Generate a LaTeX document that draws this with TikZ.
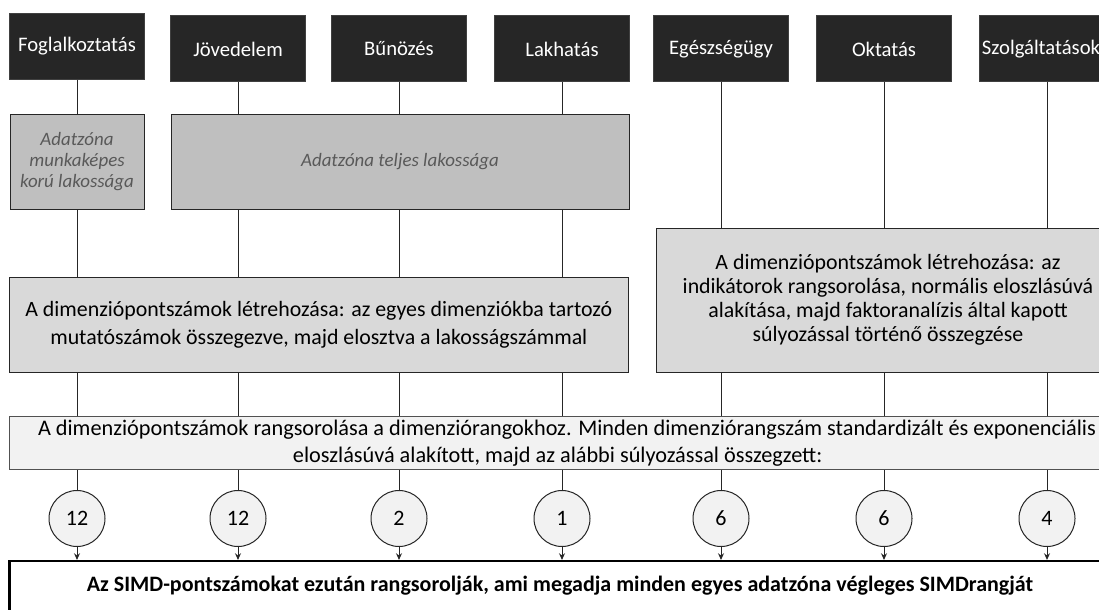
\documentclass[tikz,border=0pt]{standalone}
\usepackage{fontspec}
\setmainfont{Carlito}
\usetikzlibrary{arrows.meta}
\definecolor{topfill}{HTML}{262626}
\definecolor{topedge}{HTML}{404040}
\definecolor{midfill}{HTML}{BFBFBF}
\definecolor{midtext}{HTML}{595959}
\definecolor{lightfill}{HTML}{D9D9D9}
\definecolor{paler}{HTML}{F2F2F2}
\definecolor{edge}{HTML}{262626}
\tikzset{
  dimbox/.style={draw=topedge, fill=topfill, text=white, line width=0.75pt,
    minimum width=101.25pt, minimum height=49.5pt, inner sep=0pt,
    font=\fontsize{15.5pt}{18pt}\selectfont},
  popbox/.style={draw=edge, fill=midfill, text=midtext, line width=0.75pt,
    minimum height=71.25pt, inner sep=0pt, align=center,
    font=\fontsize{14.2pt}{15.6pt}\selectfont\itshape},
  scorebox/.style={draw=edge, fill=lightfill, line width=0.75pt, inner sep=0pt,
    align=center, font=\fontsize{16.4pt}{21pt}\selectfont},
  rankbox/.style={draw=edge!80, fill=paler, line width=0.75pt, inner sep=0pt,
    align=center, font=\fontsize{16.7pt}{20pt}\selectfont},
  weight/.style={circle, draw=edge, fill=paler, line width=0.75pt,
    minimum size=42pt, inner sep=0pt, font=\fontsize{16.5pt}{19pt}\selectfont},
  finalbox/.style={draw=black, fill=white, line width=1.6pt, inner sep=0pt,
    font=\fontsize{16.5pt}{19pt}\selectfont\bfseries},
  link/.style={draw=edge, line width=0.75pt},
  arrowlink/.style={link, -{Stealth[length=5pt,width=4.5pt]}}
}
\begin{document}
\begin{tikzpicture}[x=0.75pt,y=-0.75pt]
\useasboundingbox (0,0) rectangle (1099,610);
\clip (0,0) rectangle (1099,610);

% top row
\node[dimbox] (fog)   at (77,46.5)  {Foglalkoztatás};
\node[dimbox] (jov)   at (238,49)   {Jövedelem};
\node[dimbox] (bun)   at (399,49)   {Bűnözés};
\node[dimbox] (lak)   at (562,49)   {Lakhatás};
\node[dimbox] (egesz) at (721,49)   {Egészségügy};
\node[dimbox] (okt)   at (884,49)   {Oktatás};
\node[dimbox] (szolg) at (1047,49)  {Szolgáltatások\hspace*{9pt}};

% population boxes
\node[popbox, minimum width=100.5pt] (munk) at (77,161.5)
  {Adatzóna\\munkaképes\\korú lakossága};
\node[popbox, minimum width=343.5pt] (teljes) at (400,161.5)
  {Adatzóna teljes lakossága};

% score boxes
\node[scorebox, minimum width=463.9pt, minimum height=71.25pt] (dimL) at (318.75,324.5)
  {A dimenziópontszámok létrehozása: az egyes dimenziókba tartozó\\
   mutatószámok összegezve, majd elosztva a lakosságszámmal};
\node[scorebox, minimum width=348pt, minimum height=108pt,
      font=\fontsize{16.4pt}{18pt}\selectfont] (dimR) at (888,300)
  {A dimenziópontszámok létrehozása: az\\
   indikátorok rangsorolása, normális eloszlásúvá\\
   alakítása, majd faktoranalízis által kapott\\
   súlyozással történő összegzése};

% ranking box
\node[rankbox, minimum width=836.25pt, minimum height=39.75pt] (rank) at (567,443)
  {A dimenziópontszámok rangsorolása a dimenziórangokhoz. Minden dimenziórangszám standardizált és exponenciális\\
   eloszlásúvá alakított, majd az alábbi súlyozással összegzett:\hspace*{14pt}};

% weights
\node[weight] (w1) at (77,518.5)   {12};
\node[weight] (w2) at (238,518.5)  {12};
\node[weight] (w3) at (399,518.5)  {2};
\node[weight] (w4) at (562,518.5)  {1};
\node[weight] (w5) at (721,518.5)  {6};
\node[weight] (w6) at (884,518.5)  {6};
\node[weight] (w7) at (1047,518.5) {4};

% final box
\node[finalbox, minimum width=825.75pt, minimum height=37.5pt] (final) at (560,586)
  {Az SIMD-pontszámokat ezután rangsorolják, ami megadja minden egyes adatzóna végleges SIMDrangját};

% connectors: top row to population boxes
\draw[link] (fog.south) -- (fog.south |- munk.north);
\foreach \d in {jov,bun,lak}
  \draw[link] (\d.south) -- (\d.south |- teljes.north);
% population boxes to left score box
\draw[link] (fog.south |- munk.south) -- (fog.south |- dimL.north);
\foreach \d in {jov,bun,lak}
  \draw[link] (\d.south |- teljes.south) -- (\d.south |- dimL.north);
% top row to right score box
\foreach \d in {egesz,okt,szolg}
  \draw[link] (\d.south) -- (\d.south |- dimR.north);
% score boxes to ranking box
\foreach \w in {w1,w2,w3,w4}
  \draw[link] (\w.north |- dimL.south) -- (\w.north |- rank.north);
\foreach \w in {w5,w6,w7}
  \draw[link] (\w.north |- dimR.south) -- (\w.north |- rank.north);
% ranking box to weights, weights to final box
\foreach \w in {w1,w2,w3,w4,w5,w6,w7} {
  \draw[link] (\w.north |- rank.south) -- (\w.north);
  \draw[arrowlink] (\w.south) -- (\w.south |- final.north);
}
\end{tikzpicture}
\end{document}
